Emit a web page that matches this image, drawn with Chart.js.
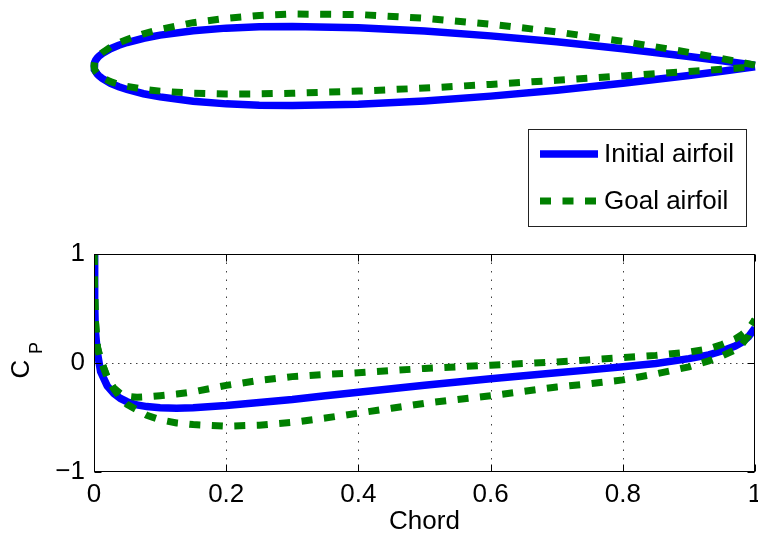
<!DOCTYPE html>
<html>
<head>
<meta charset="utf-8">
<script src="https://cdn.jsdelivr.net/npm/chart.js@4.4.1/dist/chart.umd.min.js"></script>
<style>
html, body { margin: 0; padding: 0; background: #fff; }
#wrap { position: relative; width: 758px; height: 535px; }
canvas { position: absolute; left: 0; }
</style>
</head>
<body>
<div id="wrap">
  <canvas id="shape" width="758" height="240" style="top:0"></canvas>
  <canvas id="cp" width="758" height="295" style="top:240px"></canvas>
</div>
<script>
// 에어포일 형상 (코드 방향 위치, 윗면/아랫면 두께)
const airfoilX = [0, 0.001, 0.0025, 0.005, 0.0075, 0.0125, 0.025, 0.0375, 0.05, 0.075, 0.1, 0.15, 0.2, 0.25, 0.3, 0.4, 0.5, 0.6, 0.7, 0.8, 0.9, 0.95, 1.0];
const initialUpper = [0, 0.00556, 0.00872, 0.01221, 0.01485, 0.01894, 0.02615, 0.03137, 0.03555, 0.04200, 0.04683, 0.05345, 0.05737, 0.05941, 0.06002, 0.05803, 0.05294, 0.04563, 0.03664, 0.02623, 0.01448, 0.00807, 0.00126];
const initialLower = [0, -0.00556, -0.00872, -0.01221, -0.01485, -0.01894, -0.02615, -0.03137, -0.03555, -0.04200, -0.04683, -0.05345, -0.05737, -0.05941, -0.06002, -0.05803, -0.05294, -0.04563, -0.03664, -0.02623, -0.01448, -0.00807, -0.00126];
const goalUpper = [0, 0.00566, 0.00897, 0.01271, 0.01559, 0.02017, 0.02857, 0.03495, 0.04024, 0.04880, 0.05558, 0.06564, 0.07237, 0.07660, 0.07877, 0.07803, 0.07238, 0.06341, 0.05164, 0.03734, 0.02059, 0.01126, 0.00126];
const goalLower = [0, -0.00546, -0.00847, -0.01172, -0.01410, -0.01771, -0.02373, -0.02780, -0.03086, -0.03520, -0.03808, -0.04126, -0.04237, -0.04222, -0.04127, -0.03803, -0.03350, -0.02785, -0.02164, -0.01512, -0.00837, -0.00488, -0.00126];

// 압력계수 분포
const cpX = [0, 0.001, 0.002, 0.005, 0.01, 0.02, 0.03, 0.04, 0.05, 0.065, 0.08, 0.1, 0.125, 0.15, 0.2, 0.25, 0.3, 0.35, 0.4, 0.45, 0.5, 0.55, 0.6, 0.65, 0.7, 0.75, 0.8, 0.85, 0.9, 0.93, 0.95, 0.97, 0.98, 0.99, 1.0];
const initialCp = [1.0, 0.55, 0.3, 0.1, -0.08, -0.21, -0.28, -0.325, -0.355, -0.385, -0.4, -0.41, -0.415, -0.41, -0.39, -0.362, -0.335, -0.3, -0.268, -0.237, -0.205, -0.175, -0.145, -0.117, -0.09, -0.063, -0.035, -0.005, 0.04, 0.075, 0.11, 0.155, 0.19, 0.24, 0.32];
const goalUpperCp = [1.0, 0.65, 0.4, 0.15, 0.03, -0.13, -0.24, -0.32, -0.38, -0.43, -0.48, -0.52, -0.55, -0.565, -0.58, -0.57, -0.545, -0.505, -0.46, -0.415, -0.37, -0.335, -0.3, -0.26, -0.22, -0.19, -0.155, -0.1, -0.035, 0.02, 0.065, 0.12, 0.17, 0.25, 0.4];
const goalLowerCp = [1.0, 0.65, 0.4, 0.15, 0.03, -0.13, -0.23, -0.28, -0.305, -0.315, -0.31, -0.3, -0.285, -0.265, -0.205, -0.16, -0.125, -0.105, -0.09, -0.07, -0.05, -0.035, -0.02, -0.005, 0.01, 0.03, 0.05, 0.07, 0.1, 0.13, 0.17, 0.22, 0.26, 0.31, 0.4];

const xTicks = [0, 0.2, 0.4, 0.6, 0.8, 1];
const yTicks = [-1, 0, 1];

const FONT = '"Liberation Sans", Arial, Helvetica, sans-serif';
Chart.defaults.font.family = FONT;
Chart.defaults.font.size = 26;
Chart.defaults.color = '#000';

const BLUE = '#0000ff';
const GREEN = '#008000';

function toPoints(xs, ys) {
    return xs.map((x, i) => ({ x: x, y: ys[i] }));
}

// 뒷전 -> 앞전(윗면) -> 뒷전(아랫면) 순서로 닫힌 형상
function outline(upper, lower) {
    const up = toPoints(airfoilX, upper).reverse();
    const low = toPoints(airfoilX, lower).slice(1);
    return up.concat(low);
}

// 범례 상자
const legendBox = {
    id: 'legendBox',
    afterDraw(chart) {
        const ctx = chart.ctx;
        ctx.save();
        ctx.fillStyle = '#fff';
        ctx.fillRect(528, 129, 219, 98);
        ctx.strokeStyle = '#222';
        ctx.lineWidth = 1;
        ctx.strokeRect(528.5, 129.5, 218, 97);
        chart.data.datasets.forEach((ds, i) => {
            const y = 154 + i * 47;
            ctx.strokeStyle = ds.borderColor;
            ctx.lineWidth = ds.borderWidth;
            ctx.setLineDash(ds.borderDash || []);
            ctx.beginPath();
            ctx.moveTo(540, y);
            ctx.lineTo(598, y);
            ctx.stroke();
            ctx.setLineDash([]);
            ctx.fillStyle = '#000';
            ctx.font = '26px ' + FONT;
            ctx.textAlign = 'left';
            ctx.textBaseline = 'middle';
            ctx.fillText(ds.label, 604, y + 1);
        });
        ctx.restore();
    }
};

new Chart(document.getElementById('shape'), {
    type: 'scatter',
    data: {
        datasets: [
            { label: 'Initial airfoil', data: outline(initialUpper, initialLower), showLine: true, borderColor: BLUE, borderWidth: 7.5, pointRadius: 0, order: 1, clip: false },
            { label: 'Goal airfoil', data: outline(goalUpper, goalLower), showLine: true, borderColor: GREEN, borderWidth: 7, borderDash: [11, 11.5], pointRadius: 0, order: 0, clip: false }
        ]
    },
    options: {
        responsive: false,
        animation: false,
        layout: { padding: { left: 94, right: 3, top: 0, bottom: 108 } },
        plugins: { legend: { display: false }, tooltip: { enabled: false } },
        scales: {
            x: { type: 'linear', display: false, min: 0, max: 1 },
            y: { type: 'linear', display: false, min: -0.1, max: 0.1 }
        }
    },
    plugins: [legendBox]
});

// 격자, 테두리, 안쪽 눈금, C_P 라벨
const axesFrame = {
    id: 'axesFrame',
    beforeDatasetsDraw(chart) {
        const { ctx, chartArea: a, scales: { x, y } } = chart;
        ctx.save();
        ctx.strokeStyle = 'rgba(0,0,0,0.75)';
        ctx.lineWidth = 1;
        ctx.setLineDash([1.5, 7]);
        xTicks.slice(1, -1).forEach(v => {
            const px = Math.round(x.getPixelForValue(v)) + 0.5;
            ctx.beginPath(); ctx.moveTo(px, a.top); ctx.lineTo(px, a.bottom); ctx.stroke();
        });
        ctx.setLineDash([1.5, 4.5]);
        yTicks.slice(1, -1).forEach(v => {
            const py = Math.round(y.getPixelForValue(v)) + 0.5;
            ctx.beginPath(); ctx.moveTo(a.left, py); ctx.lineTo(a.right, py); ctx.stroke();
        });
        ctx.restore();
    },
    afterDatasetsDraw(chart) {
        const { ctx, chartArea: a, scales: { x, y } } = chart;
        const l = Math.round(a.left) + 0.5, r = Math.round(a.right) - 0.5;
        const t = Math.round(a.top) + 0.5, b = Math.round(a.bottom) - 0.5;
        ctx.save();
        ctx.strokeStyle = '#000';
        ctx.lineWidth = 1;
        ctx.strokeRect(l, t, r - l, b - t);
        ctx.beginPath();
        xTicks.forEach(v => {
            const px = Math.round(x.getPixelForValue(v)) + 0.5;
            ctx.moveTo(px, b); ctx.lineTo(px, b - 7);
            ctx.moveTo(px, t); ctx.lineTo(px, t + 7);
        });
        yTicks.forEach(v => {
            const py = Math.round(y.getPixelForValue(v)) + 0.5;
            ctx.moveTo(l, py); ctx.lineTo(l + 7, py);
            ctx.moveTo(r, py); ctx.lineTo(r - 7, py);
        });
        ctx.stroke();

        // y축 라벨 C_P (아래 첨자)
        ctx.fillStyle = '#000';
        ctx.translate(22, 129);
        ctx.rotate(-Math.PI / 2);
        ctx.textAlign = 'center';
        ctx.textBaseline = 'middle';
        ctx.font = '26px ' + FONT;
        ctx.fillText('C', 0, 0);
        ctx.font = '18px ' + FONT;
        ctx.fillText('P', 21, 15);
        ctx.restore();
    }
};

new Chart(document.getElementById('cp'), {
    type: 'scatter',
    data: {
        datasets: [
            { label: 'Initial airfoil', data: toPoints(cpX, initialCp), showLine: true, borderColor: BLUE, borderWidth: 7.5, pointRadius: 0, order: 2 },
            { label: 'Goal airfoil', data: toPoints(cpX, goalUpperCp), showLine: true, borderColor: GREEN, borderWidth: 7, borderDash: [11, 11.5], pointRadius: 0, order: 1 },
            { label: 'Goal airfoil', data: toPoints(cpX, goalLowerCp), showLine: true, borderColor: GREEN, borderWidth: 7, borderDash: [11, 11.5], pointRadius: 0, order: 0 }
        ]
    },
    options: {
        responsive: false,
        animation: false,
        layout: { padding: { left: 0, right: 3, top: 14, bottom: 0 } },
        plugins: { legend: { display: false }, tooltip: { enabled: false } },
        scales: {
            x: {
                type: 'linear', min: 0, max: 1,
                border: { display: false },
                grid: { display: false, drawTicks: false },
                ticks: { stepSize: 0.2, padding: 7, maxRotation: 0, autoSkip: false, callback: v => String(Math.round(v * 10) / 10) },
                title: { display: true, text: 'Chord', padding: 0, font: { size: 26, lineHeight: 1.0 } },
                afterFit(s) { s.height = 63; s.paddingLeft = 0; s.paddingRight = 0; }
            },
            y: {
                type: 'linear', min: -1, max: 1,
                border: { display: false },
                grid: { display: false, drawTicks: false },
                ticks: { stepSize: 1, padding: 9, callback: v => String(v).replace('-', '−') },
                afterFit(s) { s.width = 94; s.paddingTop = 0; s.paddingBottom = 0; }
            }
        }
    },
    plugins: [axesFrame]
});
</script>
</body>
</html>
